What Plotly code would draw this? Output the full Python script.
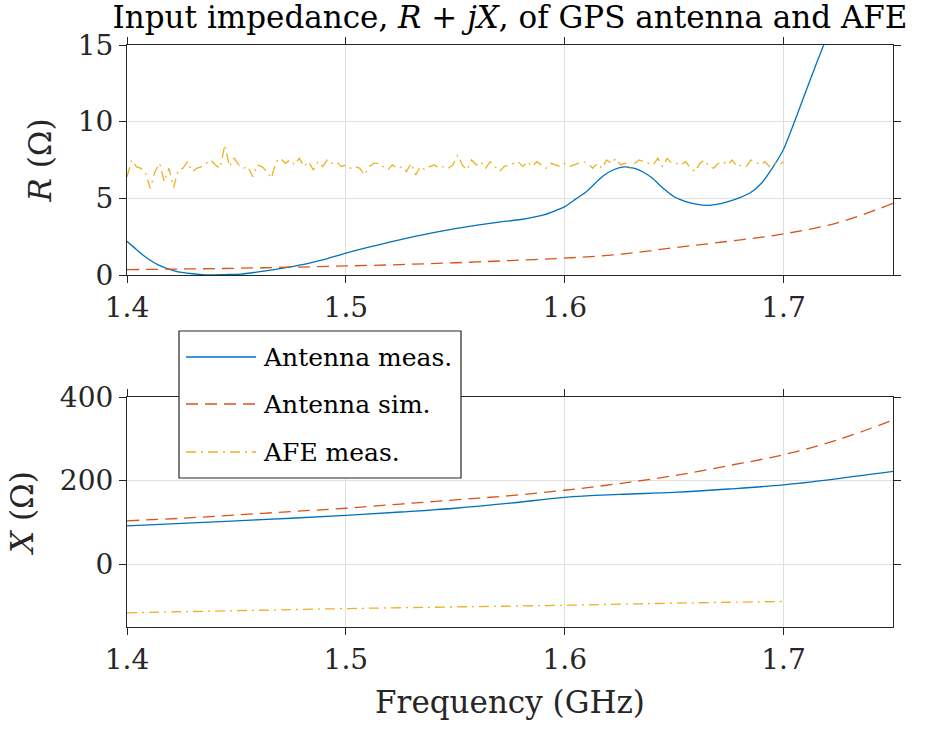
import numpy as np
import plotly.graph_objects as go

# ---------------- data ----------------
# Antenna measurement, resistance R (ohm)
ant_meas_r_f = [1.400, 1.404, 1.408, 1.414, 1.422, 1.430, 1.436, 1.445, 1.452, 1.460,
                1.468, 1.475, 1.482, 1.488, 1.494, 1.500, 1.510, 1.520, 1.530, 1.540,
                1.550, 1.560, 1.570, 1.580, 1.590, 1.595, 1.600, 1.605, 1.610, 1.6175,
                1.622, 1.627, 1.632, 1.636, 1.640, 1.645, 1.650, 1.655, 1.660, 1.665,
                1.670, 1.675, 1.680, 1.685, 1.690, 1.695, 1.700, 1.705, 1.710, 1.715,
                1.720]
ant_meas_r = [2.20, 1.70, 1.22, 0.68, 0.26, 0.08, 0.01, 0.03, 0.06, 0.20,
              0.36, 0.54, 0.72, 0.93, 1.18, 1.42, 1.80, 2.14, 2.47, 2.76,
              3.02, 3.25, 3.45, 3.62, 3.90, 4.15, 4.46, 4.95, 5.45, 6.45,
              6.85, 7.05, 6.95, 6.70, 6.32, 5.65, 5.10, 4.80, 4.62, 4.54,
              4.62, 4.80, 5.05, 5.38, 6.00, 7.00, 8.20, 10.0, 11.9, 13.8,
              15.6]

# Antenna simulation, resistance R (ohm)
ant_sim_f = [1.400, 1.425, 1.450, 1.475, 1.500, 1.525, 1.550, 1.575,
             1.600, 1.625, 1.650, 1.675, 1.700, 1.725, 1.750]
ant_sim_r = [0.35, 0.39, 0.44, 0.51, 0.59, 0.68, 0.80, 0.94,
             1.10, 1.35, 1.78, 2.20, 2.68, 3.42, 4.67]

# AFE measurement, resistance R (ohm), uniform sweep 1.4 .. 1.7 GHz
afe_r = [6.41, 7.50, 7.07, 6.96, 6.63, 5.65, 6.74, 7.28, 6.09, 6.96,
         5.70, 6.85, 6.96, 7.39, 6.74, 6.96, 7.07, 7.28, 7.50, 7.18,
         6.96, 8.48, 7.07, 7.61, 7.18, 6.96, 7.07, 6.41, 7.18, 7.07,
         6.74, 6.31, 7.39, 7.61, 7.28, 7.50, 7.18, 7.61, 7.07, 7.39,
         6.85, 7.39, 7.07, 7.50, 7.28, 7.39, 7.07, 7.18, 6.96, 7.07,
         6.96, 6.52, 7.07, 7.28,
         7.28, 7.07, 6.85, 7.18, 6.96, 7.07, 6.74, 7.28, 6.52, 7.07,
         6.85, 7.07, 7.18, 6.96, 7.07, 6.96, 7.18, 7.83, 7.18, 6.85,
         7.50, 7.18, 7.39, 6.96, 7.39, 7.07, 6.74, 7.07, 7.18, 7.28,
         7.39, 7.07, 7.39, 7.07, 7.39, 7.18, 6.96, 7.28, 7.18, 7.07,
         7.28, 7.07, 7.18, 7.28,
         7.39, 7.28, 6.96, 7.28, 6.96, 7.50, 7.28, 7.61, 7.18, 7.28,
         6.96, 7.28, 7.50, 7.39, 7.28, 7.18, 7.61, 7.07, 7.61, 7.28,
         7.28, 7.18, 7.39, 6.96, 6.74, 7.28, 7.50, 7.07, 6.96, 7.28,
         7.39, 7.18, 7.50, 7.07, 7.18, 7.07, 7.50, 7.39, 7.18, 7.39,
         7.07, 7.28, 7.18, 7.39]
afe_f = np.linspace(1.4, 1.7, len(afe_r))

# Reactance X (ohm)
x_f = [1.400, 1.425, 1.450, 1.475, 1.500, 1.525, 1.550, 1.575,
       1.600, 1.625, 1.650, 1.675, 1.700, 1.725, 1.750]
ant_meas_x = [92, 98, 104, 110, 117, 125, 134, 146,
              160, 167, 172, 180, 190, 205, 222]
ant_sim_x = [104, 110, 118, 126, 134, 144, 154, 164,
             177, 193, 212, 236, 262, 298, 345]
afe_x_f = [1.40, 1.45, 1.50, 1.55, 1.60, 1.65, 1.70]
afe_x = [-116, -111, -106, -102, -98, -93, -89]

series_names = ["Antenna meas.", "Antenna sim.", "AFE meas."]

# ---------------- styling ----------------
BLUE = "#0072BD"
ORANGE = "#D95319"
YELLOW = "#EDB120"
AX = "#262626"
GRID = "#dfdfdf"
FONT = "DejaVu Serif"
LW = 1.3
DASH = "12px,7px"
DASHDOT = "10px,5px,2px,5px"

W, H = 940, 731
ML, MR, MT, MB = 127, 47, 45, 104
PW, PH = W - ML - MR, H - MT - MB


def px_x(px):
    return (px - ML) / PW


def px_y(py):
    return (H - MB - py) / PH


fig = go.Figure()

# top: resistance
fig.add_trace(go.Scatter(x=ant_meas_r_f, y=ant_meas_r, mode="lines", name=series_names[0],
                         line=dict(color=BLUE, width=LW, shape="spline", smoothing=0.6),
                         xaxis="x", yaxis="y", showlegend=False))
fig.add_trace(go.Scatter(x=ant_sim_f, y=ant_sim_r, mode="lines", name=series_names[1],
                         line=dict(color=ORANGE, width=LW, dash=DASH, shape="spline"),
                         xaxis="x", yaxis="y", showlegend=False))
fig.add_trace(go.Scatter(x=afe_f, y=afe_r, mode="lines", name=series_names[2],
                         line=dict(color=YELLOW, width=LW, dash=DASHDOT), xaxis="x", yaxis="y",
                         showlegend=False))

# bottom: reactance
fig.add_trace(go.Scatter(x=x_f, y=ant_meas_x, mode="lines", name=series_names[0],
                         line=dict(color=BLUE, width=LW, shape="spline"), xaxis="x2", yaxis="y2",
                         showlegend=False))
fig.add_trace(go.Scatter(x=x_f, y=ant_sim_x, mode="lines", name=series_names[1],
                         line=dict(color=ORANGE, width=LW, dash=DASH, shape="spline"),
                         xaxis="x2", yaxis="y2", showlegend=False))
fig.add_trace(go.Scatter(x=afe_x_f, y=afe_x, mode="lines", name=series_names[2],
                         line=dict(color=YELLOW, width=LW, dash=DASHDOT, shape="spline"),
                         xaxis="x2", yaxis="y2", showlegend=False))

axis_common = dict(
    showline=True, linecolor=AX, linewidth=1.2, mirror="ticks",
    ticks="outside", ticklen=7, tickwidth=1.2, tickcolor=AX,
    showgrid=True, gridcolor=GRID, gridwidth=1, zeroline=False,
    tickfont=dict(family=FONT, size=28, color=AX),
)

top_bottom = px_y(275)
bot_top = px_y(397)

fig.update_layout(
    width=W, height=H,
    margin=dict(l=ML, r=MR, t=MT, b=MB),
    paper_bgcolor="white", plot_bgcolor="white",
    font=dict(family=FONT, color=AX),
    title=dict(text="Input impedance, <i>R</i> + <i>jX</i>, of GPS antenna and AFE",
               x=px_x(510), xref="paper", xanchor="center",
               y=1 - 17 / H, yref="container", yanchor="middle",
               font=dict(family=FONT, size=31, color="black")),
    xaxis=dict(axis_common, domain=[0, 1], anchor="y", range=[1.4, 1.75],
               tick0=1.4, dtick=0.1, tickformat=".1f"),
    yaxis=dict(axis_common, domain=[top_bottom, 1], anchor="x", range=[0, 15],
               tick0=0, dtick=5,
               title=dict(text="<i>R</i> (Ω)", standoff=16,
                          font=dict(family=FONT, size=31, color=AX))),
    xaxis2=dict(axis_common, domain=[0, 1], anchor="y2", range=[1.4, 1.75],
                tick0=1.4, dtick=0.1, tickformat=".1f",
                title=dict(text="Frequency (GHz)", standoff=16,
                           font=dict(family=FONT, size=31, color=AX))),
    yaxis2=dict(axis_common, domain=[0, bot_top], anchor="x2", range=[-150, 400],
                tick0=0, dtick=200,
                title=dict(text="<i>X</i> (Ω)", standoff=16,
                           font=dict(family=FONT, size=31, color=AX))),
)

# legend box spanning both panels
shapes = [dict(type="rect", xref="paper", yref="paper", layer="above",
               x0=px_x(179), x1=px_x(461), y0=px_y(478), y1=px_y(331),
               line=dict(color=AX, width=1.2), fillcolor="white")]
annotations = []
legend_rows = [357, 404, 452]
legend_styles = [(BLUE, "solid"), (ORANGE, DASH), (YELLOW, DASHDOT)]
for name, row, (col, dsh) in zip(series_names, legend_rows, legend_styles):
    shapes.append(dict(type="line", xref="paper", yref="paper", layer="above",
                       x0=px_x(186), x1=px_x(256), y0=px_y(row), y1=px_y(row),
                       line=dict(color=col, width=LW, dash=dsh)))
    annotations.append(dict(text=name, xref="paper", yref="paper", showarrow=False,
                            x=px_x(261), y=px_y(row), xanchor="left", yanchor="middle",
                            font=dict(family=FONT, size=25, color="black")))
fig.update_layout(shapes=shapes, annotations=annotations)

fig.write_html("out.html")
